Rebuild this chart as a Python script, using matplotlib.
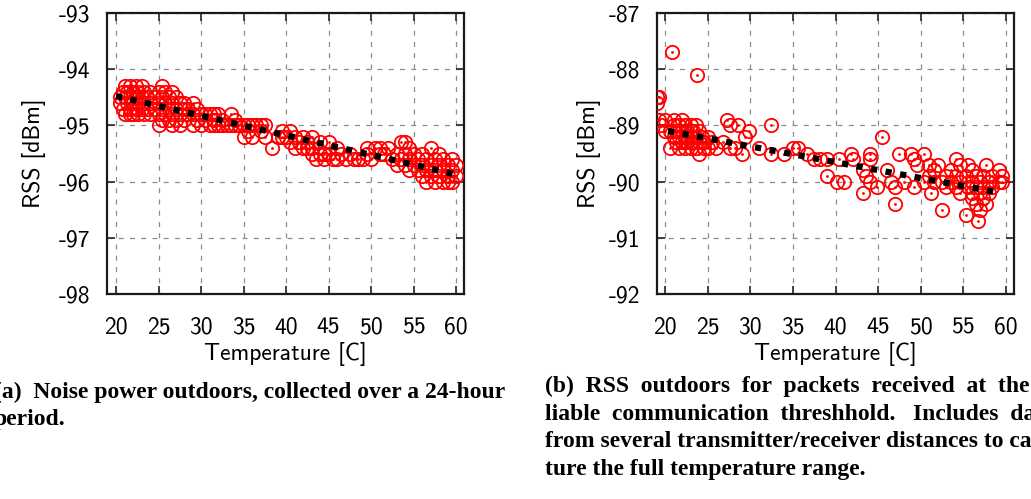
import matplotlib.pyplot as plt

# (a) noise power vs temperature
temp_a = [20.5, 20.5, 20.8, 20.8, 21.0, 21.0, 21.0, 21.3, 21.3,
          21.6, 21.6, 21.6, 21.6, 22.0, 22.0, 22.0, 22.3, 22.3, 22.3,
          22.6, 22.6, 22.6, 23.0, 23.0, 23.0, 23.3, 23.3, 23.3, 23.7, 23.7,
          24.0, 24.0, 24.0, 24.5, 24.5, 25.0, 25.0, 25.0, 25.0,
          25.4, 25.4, 25.4, 25.4, 25.8, 25.8, 25.8, 26.2, 26.2, 26.2,
          26.6, 26.6, 26.6, 26.6, 27.0, 27.0, 27.0, 27.5, 27.5, 27.5,
          28.0, 28.0, 28.0, 28.5, 28.5, 29.0, 29.0, 29.0, 29.5, 29.5,
          30.0, 30.0, 30.5, 30.5, 31.0, 31.0, 31.5, 31.5, 31.5, 32.0, 32.0,
          32.5, 32.5, 33.0, 33.5, 33.5, 34.0, 34.0, 34.5, 35.0, 35.0,
          35.5, 35.5, 36.0, 36.0, 36.5, 37.0, 37.0, 37.5, 37.5, 38.4,
          39.0, 39.5, 39.5, 40.0, 40.5, 40.5, 41.0, 41.0, 41.5, 42.0, 42.0,
          42.5, 42.5, 43.0, 43.0, 43.0, 43.5, 44.0, 44.0, 44.5, 44.5,
          45.0, 45.0, 45.5, 46.0, 46.0, 46.5, 47.0, 47.5, 48.0, 48.5, 49.0,
          49.5, 49.5, 50.0, 50.5, 51.0, 51.0, 51.5, 52.0, 52.5, 53.0, 53.0,
          53.5, 53.5, 54.0, 54.0, 54.0, 54.5, 54.5, 54.5, 55.0, 55.0,
          55.5, 55.5, 56.0, 56.0, 56.0, 56.5, 56.5, 56.5, 57.0, 57.0, 57.0,
          57.5, 57.5, 57.5, 58.0, 58.0, 58.0, 58.5, 58.5, 58.5,
          59.0, 59.0, 59.0, 59.5, 59.5, 59.5, 60.0, 60.0]
rss_a = [-94.5, -94.6, -94.4, -94.7, -94.3, -94.5, -94.8, -94.4, -94.6,
         -94.3, -94.5, -94.7, -94.8, -94.4, -94.6, -94.8, -94.3, -94.5, -94.7,
         -94.4, -94.6, -94.8, -94.3, -94.5, -94.7, -94.4, -94.6, -94.8, -94.5, -94.7,
         -94.4, -94.6, -94.8, -94.5, -94.7, -94.4, -94.6, -94.8, -95.0,
         -94.3, -94.5, -94.7, -94.9, -94.4, -94.6, -94.8, -94.5, -94.7, -94.9,
         -94.4, -94.6, -94.8, -95.0, -94.5, -94.7, -94.9, -94.6, -94.8, -95.0,
         -94.6, -94.7, -94.9, -94.7, -94.8, -94.6, -94.8, -95.0, -94.7, -94.9,
         -94.8, -95.0, -94.8, -94.9, -94.8, -95.0, -94.8, -94.9, -95.0, -94.8, -95.0,
         -94.9, -95.0, -95.0, -94.8, -95.0, -94.9, -95.0, -95.0, -95.0, -95.2,
         -95.0, -95.1, -95.0, -95.2, -95.0, -95.0, -95.1, -95.0, -95.2, -95.4,
         -95.2, -95.1, -95.2, -95.2, -95.1, -95.3, -95.2, -95.4, -95.3, -95.2, -95.4,
         -95.3, -95.4, -95.2, -95.4, -95.5, -95.6, -95.3, -95.5, -95.5, -95.6,
         -95.3, -95.5, -95.6, -95.4, -95.6, -95.5, -95.6, -95.5, -95.6, -95.6, -95.6,
         -95.4, -95.5, -95.6, -95.4, -95.4, -95.5, -95.5, -95.4, -95.6, -95.5, -95.7,
         -95.3, -95.6, -95.3, -95.5, -95.7, -95.4, -95.6, -95.8, -95.5, -95.7,
         -95.6, -95.8, -95.5, -95.7, -95.9, -95.6, -95.8, -96.0, -95.4, -95.7, -95.9,
         -95.6, -95.8, -96.0, -95.5, -95.7, -95.9, -95.6, -95.8, -96.0,
         -95.7, -95.9, -96.0, -95.6, -95.8, -96.0, -95.7, -95.9]
fit_temp_a = [20.0, 59.6]
fit_rss_a = [-94.48, -95.86]

# (b) RSS of packets at the reliable threshold vs temperature
temp_b = [19.1, 19.1, 19.3, 19.3, 19.5, 20.0, 20.0, 20.6, 20.6, 20.8,
          21.0, 21.0, 21.0, 21.3, 21.3, 21.6, 21.6, 21.6, 22.0, 22.0, 22.0,
          22.3, 22.3, 22.3, 22.3, 22.6, 22.6, 22.6, 23.0, 23.0, 23.0, 23.0, 23.0,
          23.3, 23.3, 23.3, 23.6, 23.6, 23.6, 23.8, 24.0, 24.0, 24.0, 24.3, 24.3,
          24.6, 24.6, 25.0, 25.0, 25.5, 26.0, 26.8, 27.3, 27.6, 27.6, 28.2,
          28.6, 29.0, 29.4, 29.8, 31.0, 32.4, 32.4, 33.9, 35.0, 35.6, 36.7,
          37.5, 38.2, 39.0, 39.0, 40.2, 40.4, 41.0, 41.8, 42.0, 43.2, 43.2,
          43.6, 44.0, 44.0, 44.0, 44.9, 45.5, 46.1, 46.5, 47.0, 47.0, 47.4,
          48.0, 48.8, 49.2, 49.2, 49.6, 50.4, 50.4, 51.0, 51.0, 51.2, 51.6, 51.6,
          52.0, 52.5, 52.5, 53.0, 53.0, 53.5, 53.5, 54.1, 54.1, 54.1,
          54.6, 54.6, 54.6, 55.3, 55.3, 55.5, 55.5, 56.0, 56.0, 56.0, 56.0,
          56.5, 56.5, 56.5, 56.7, 57.0, 57.0, 57.0, 57.3, 57.3, 57.3,
          57.6, 57.6, 58.0, 58.0, 58.4, 58.4, 59.2, 59.2, 59.5, 59.5]
rss_b = [-88.6, -88.5, -88.5, -88.9, -89.0, -89.1, -88.9, -89.4, -89.1, -87.7,
         -88.9, -89.0, -89.2, -89.1, -89.3, -89.0, -89.2, -89.4, -88.9, -89.1, -89.3,
         -89.0, -89.2, -89.3, -89.4, -89.1, -89.2, -89.3, -89.0, -89.1, -89.2, -89.3, -89.4,
         -89.1, -89.2, -89.3, -89.0, -89.2, -89.4, -88.1, -89.1, -89.3, -89.5, -89.2, -89.3,
         -89.3, -89.4, -89.2, -89.4, -89.3, -89.4, -89.3, -88.9, -89.0, -89.4, -89.4,
         -89.0, -89.5, -89.2, -89.1, -89.4, -89.0, -89.5, -89.5, -89.4, -89.4, -89.5,
         -89.6, -89.6, -89.6, -89.9, -90.0, -89.6, -90.0, -89.5, -89.6, -89.8, -90.2,
         -89.9, -89.5, -89.6, -90.0, -90.1, -89.2, -89.8, -90.0, -90.1, -90.4, -89.5,
         -90.0, -89.5, -90.1, -89.6, -89.7, -89.5, -90.0, -89.7, -89.9, -90.2, -89.8, -90.0,
         -89.7, -90.5, -90.0, -89.9, -90.1, -89.8, -90.0, -89.6, -89.9, -90.1,
         -89.7, -90.0, -90.2, -90.6, -89.9, -89.7, -90.1, -89.8, -90.0, -90.2, -90.3,
         -89.9, -90.1, -90.4, -90.7, -90.0, -90.2, -90.5, -89.9, -90.1, -90.3,
         -89.7, -90.4, -90.0, -90.2, -89.9, -90.1, -89.8, -90.0, -89.9, -90.0]
fit_temp_b = [20.35, 58.6]
fit_rss_b = [-89.10, -90.18]

xticks = [20, 25, 30, 35, 40, 45, 50, 55, 60]
yticks_a = [-98, -97, -96, -95, -94, -93]
yticks_b = [-92, -91, -90, -89, -88, -87]

caption_a = ["(a)  Noise power outdoors, collected over a 24-hour",
             "period."]
caption_b = ["(b)  RSS  outdoors  for  packets  received  at  the  re-",
             "liable  communication  threshhold.   Includes  data",
             "from several transmitter/receiver distances to cap-",
             "ture the full temperature range."]

plt.rcParams['font.family'] = ['cmss10', 'DejaVu Sans']
plt.rcParams['axes.unicode_minus'] = False
plt.rcParams['axes.formatter.use_mathtext'] = False

fig = plt.figure(figsize=(10.31, 4.99), dpi=100)
W, H = 1031, 499


def make_axes(left_px, right_px, xlim, ylim, yticks,
              temp, rss, fit_t, fit_r, ylab_x):
    ax = fig.add_axes([left_px / W, 1 - 294 / H,
                       (right_px - left_px) / W, (294 - 13) / H])
    ax.plot(temp, rss, 'o', ms=9.6, mfc='none', mec='#ff0000', mew=1.3,
            zorder=3)
    ax.plot(temp, rss, '.', ms=2.0, color='#ff0000', zorder=3)
    ax.plot(fit_t, fit_r, color='black', lw=4.5, dashes=(1.0, 1.36),
            dash_capstyle='butt', zorder=4)
    ax.set_xlim(*xlim)
    ax.set_ylim(*ylim)
    ax.set_xticks(xticks)
    ax.set_yticks(yticks)
    ax.set_yticklabels([str(v) for v in yticks])
    ax.grid(True, color='0.55', lw=0.9, dashes=(4, 5))
    ax.tick_params(direction='in', length=6, width=1.3, top=True,
                   right=True, labelsize=17, color='0.2')
    ax.tick_params(axis='x', pad=16)
    ax.tick_params(axis='y', pad=12)
    for sp in ax.spines.values():
        sp.set_linewidth(1.6)
        sp.set_color('0.1')
    ax.set_xlabel('Temperature [C]', fontsize=17)
    ax.set_ylabel('RSS [dBm]', fontsize=17)
    ax.xaxis.set_label_coords(0.5, -0.172)
    ax.yaxis.set_label_coords(ylab_x, 0.5)
    return ax


make_axes(107, 464, (18.94, 60.94), (-98, -93), yticks_a,
          temp_a, rss_a, fit_temp_a, fit_rss_a, -0.172)
make_axes(657, 1014, (19.06, 60.94), (-92, -87), yticks_b,
          temp_b, rss_b, fit_temp_b, fit_rss_b, -0.157)

cap_font = dict(family='Liberation Serif', fontweight='bold', fontsize=17,
                va='center', ha='left')
for i, line in enumerate(caption_a):
    fig.text(-6 / W, 1 - (392 + 28 * i) / H, line, **cap_font)
for i, line in enumerate(caption_b):
    fig.text(545 / W, 1 - (386 + 28 * i) / H, line, **cap_font)

fig.savefig('out.png', dpi=100)
